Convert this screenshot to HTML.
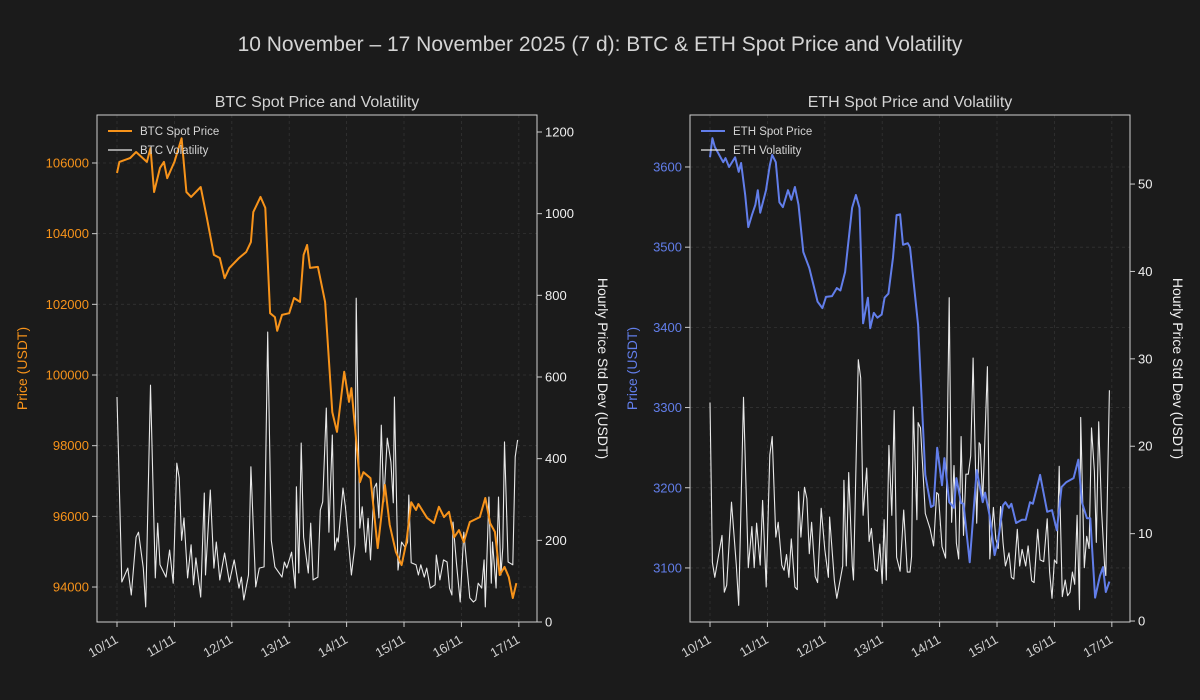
<!DOCTYPE html>
<html><head><meta charset="utf-8">
<style>
body{margin:0;background:#1b1b1b;}
svg{display:block;font-family:"Liberation Sans","DejaVu Sans",sans-serif;}
</style></head>
<body>
<svg id="fig" width="1200" height="700" viewBox="0 0 1200 700">
<rect width="1200" height="700" fill="#1b1b1b"/>
<text x="600" y="51" text-anchor="middle" font-size="21" fill="#d4d4d4">10 November – 17 November 2025 (7 d): BTC &amp; ETH Spot Price and Volatility</text>
</svg>
<script>
const dayLabels=["10/11","11/11","12/11","13/11","14/11","15/11","16/11","17/11"];
const btcPriceTicks=[94000,96000,98000,100000,102000,104000,106000];
const btcVolTicks=[0,200,400,600,800,1000,1200];
const ethPriceTicks=[3100,3200,3300,3400,3500,3600];
const ethVolTicks=[0,10,20,30,40,50];

const btcPH=[0,1,5.5,8,12.5,14,15.5,18,19.6,21,24,27,29,31,35,37.6,40.5,43,45,47,51,54,56,57,60,62,64,66,67,69,72,74,76.5,78,79.5,80.7,84,87,90,92,95,97,98,101.6,103,106,109,112,114,116.6,119,121,123,125,126,129.6,132.5,134.6,136.7,138.8,141,143,145,147.5,151.7,154,156,158,160,162,163.8,165.5,167];
const btcPrice=[105717,106030,106140,106310,106030,106420,105180,105860,106030,105570,106030,106700,105180,105040,105320,104440,103400,103310,102740,103030,103310,103480,103760,104610,105040,104730,101750,101640,101250,101700,101750,102180,102070,103400,103680,103030,103060,102070,98950,98390,100090,99240,99630,96970,97250,97080,95100,96890,95760,94990,94620,95270,96400,96180,96350,95960,95810,96270,95980,96130,95410,95610,95270,95840,95980,96520,95810,95560,94340,94570,94280,93690,94110];
const btcVH=[0,2,4.5,6,8,9,11,12,14,16,17,18,20.5,22,23.5,25,26,27,28,29.5,31,32,33,35,36.5,37,39,40.5,41.5,43,45,47,49,51,52,53,55,56,58,59.5,61.5,63,64.5,66,69,70,71,73,74.5,75,76,77,78,80,81,82,84,85,86,87.5,88.6,90,91,92,92.5,94.5,95.5,98,99.5,100,101.5,102.5,104,105,106,107.5,108.5,109.5,110.5,111.5,113,114.5,115.5,116,117.5,119,120.5,121.5,122,123,125,126,127,128.5,129.5,131,133,133.5,135,136.5,138,139,140,140.5,142,143.5,145,147.5,149,150,151,152.5,153.5,154,155.5,156.5,157,158.5,159.5,160.5,161.3,162,163.5,165.5,166.5,167.5];
const btcVol=[551,98,132,66,208,220,132,37,580,108,242,140,110,176,95,389,353,200,255,108,189,91,157,61,316,115,323,132,196,103,169,98,152,83,110,54,115,380,86,132,135,710,200,135,110,147,132,171,83,331,120,438,208,120,242,103,110,274,294,524,220,458,176,206,196,328,282,115,189,793,230,282,171,254,152,328,340,255,482,294,450,392,292,551,127,196,182,196,311,145,140,115,140,110,132,83,91,164,103,152,147,83,66,245,140,49,220,59,49,54,95,83,152,37,306,95,196,83,306,115,182,441,147,140,404,446];

const ethPH=[0,1,2,5.5,6.5,8,10.5,12,13,14.7,16,17.5,19,20,21,23.4,25,26,27.5,29,30.5,32.6,34,35.5,37,39,41.5,45,47,48.5,51,53,54.5,56.5,59.4,61,62.5,64,66,67,68.5,70,71.8,73,74.6,76.5,78,79.5,80.7,82.7,83.6,87,90,92.4,93.5,95,97,98,100,102,103,105,106,108.6,111.5,114,115,117,119,120.5,122.5,123.5,125,126,128,130.4,132,133.8,135,138,141,143,145,147,149,152,154,155.5,157.6,159,161,163,164.3,165.5,167];
const ethPrice=[3612,3636,3625,3606,3611,3600,3612,3594,3605,3565,3525,3540,3553,3571,3543,3571,3602,3615,3606,3556,3550,3571,3559,3575,3553,3494,3474,3432,3424,3438,3439,3449,3446,3469,3549,3565,3549,3405,3437,3399,3418,3412,3416,3437,3442,3487,3540,3541,3503,3505,3500,3403,3216,3176,3178,3250,3203,3237,3182,3175,3212,3181,3180,3107,3222,3182,3194,3164,3116,3135,3178,3182,3175,3180,3156,3160,3160,3182,3180,3216,3170,3172,3147,3201,3207,3212,3235,3182,3162,3162,3063,3090,3101,3070,3083];
const ethVH=[0,1,2,5,6,7,9,11,12,14,16,17.5,18.5,19.5,21,22,23.5,25,26,27.5,28.5,30,31,32,33,34,35.5,36.5,37,38,39.5,40.5,41.5,42.5,44,45,46.5,48,49.5,50,52,53,55.5,56,57,58,59.5,60,62,63,64,65.5,66.5,67.5,69,70,71,72,72.8,73.7,74.8,76,77,78,79.5,81,82.5,83.6,84.3,85,86.5,87,88,90,92,93.5,94.8,95.5,97,98.5,100,101,102,103,104,105,106,107,108,109,110,111.5,112.5,113,114,116,117,118.5,119.5,120.5,121.5,122.5,123.5,125,126,127,128.5,129.5,130.5,132,133,134.5,135.5,137,138,139.5,141,142,143,144,145,146,147.3,148.5,149.5,150.5,151.5,152.5,153.5,154.5,155,156.5,157.5,158.5,159.5,160.7,161.5,162.5,163.7,165,165.5,167];
const ethVol=[25.0,6.7,5.0,9.8,3.3,4.1,13.6,6.4,1.8,25.6,6.1,10.8,6.1,11.2,6.4,13.8,3.9,19.0,21.1,9.6,11.3,6.4,5.8,7.6,5.0,9.4,3.9,3.6,14.8,9.6,15.3,14.0,7.7,11.3,5.1,4.4,12.9,8.2,5.0,11.9,4.6,2.6,6.3,16.1,6.3,17.0,6.3,4.7,29.9,27.8,12.1,17.5,9.1,10.6,5.9,5.7,8.8,4.3,11.6,4.7,20.1,12.1,24.1,7.3,5.7,12.7,5.6,5.6,7.4,24.5,11.6,22.7,22.1,12.3,10.6,8.6,14.7,14.5,8.5,7.2,37.0,11.3,17.8,8.9,7.1,21.1,9.8,16.8,16.8,18.9,30.1,11.2,20.4,20.2,13.6,29.1,7.1,13.0,9.4,8.3,13.1,9.0,6.3,7.8,5.0,4.8,10.5,6.3,8.2,6.3,8.6,4.6,4.4,10.5,7.0,6.8,11.7,5.6,2.6,7.0,6.6,17.7,2.8,4.7,2.9,3.3,5.6,4.2,12.1,1.3,23.3,6.1,9.7,8.3,22.1,17.1,9.0,22.8,12.8,6.3,5.2,26.4];

const NS="http://www.w3.org/2000/svg";
const fig=document.getElementById('fig');
function mk(tag,attrs,parent,txt){const e=document.createElementNS(NS,tag);for(const k in attrs)e.setAttribute(k,attrs[k]);if(txt!==undefined)e.textContent=txt;(parent||fig).appendChild(e);return e;}

function panel(o){
  const g=mk('g',{});
  
  
  const L=o.x0,R=o.x0+440,T=115,B=622;
  const xS=h=>L+(h-(-8.36))/(175.6+8.36)*440;
  const yP=v=>B-(v-o.pMin)/(o.pMax-o.pMin)*(B-T);
  const yV=v=>B-(v-o.vMin)/(o.vMax-o.vMin)*(B-T);
  dayLabels.forEach((d,i)=>{const x=xS(i*24);
    const gl=mk('line',{x1:x,x2:x,y1:T,y2:B,stroke:'#333',"stroke-dasharray":'3,3',"stroke-width":0.8},g);
    
    mk('line',{x1:x,x2:x,y1:B,y2:B+5,stroke:'#ccc'},g);
    const t=mk('text',{x:x+2,y:B+20,"text-anchor":'end',"font-size":13,fill:'#cfcfcf',transform:`rotate(-30 ${x+2} ${B+20})`},g,d);
    
  });
  o.pTicks.forEach(v=>{const y=yP(v);
    const gl=mk('line',{x1:L,x2:R,y1:y,y2:y,stroke:'#333',"stroke-dasharray":'3,3',"stroke-width":0.8},g);
    
    mk('line',{x1:L-5,x2:L,y1:y,y2:y,stroke:'#ccc'},g);
    const t=mk('text',{x:L-8,y:y+4.5,"text-anchor":'end',"font-size":13,fill:o.color},g,v);
    
  });
  o.vTicks.forEach(v=>{const y=yV(v);
    mk('line',{x1:R,x2:R+5,y1:y,y2:y,stroke:'#ccc'},g);
    const t=mk('text',{x:R+8,y:y+4.5,"font-size":13,fill:'#f0f0f0'},g,v);
    
  });
  const vp=mk('polyline',{points:o.vH.map((h,i)=>xS(h).toFixed(1)+','+yV(o.vol[i]).toFixed(1)).join(' '),fill:'none',stroke:'#e8e8e8',"stroke-width":1.1,"stroke-linejoin":'round'},g);
  
  const pp=mk('polyline',{points:o.pH.map((h,i)=>xS(h).toFixed(1)+','+yP(o.price[i]).toFixed(1)).join(' '),fill:'none',stroke:o.color,"stroke-width":2,"stroke-linejoin":'round'},g);
  
  const fr=mk('rect',{x:L,y:T,width:440,height:B-T,fill:'none',stroke:'#cfcfcf',"stroke-width":1},g);
  
  const tt=mk('text',{x:L+220,y:107,"text-anchor":'middle',"font-size":16,fill:'#d4d4d4'},g,o.title);
  
  const yl=mk('text',{x:0,y:0,"text-anchor":'middle',"font-size":14,fill:o.color,transform:`translate(${L-o.lOff},${(T+B)/2}) rotate(-90)`},g,'Price (USDT)');
  
  const yr=mk('text',{x:0,y:0,"text-anchor":'middle',"font-size":14,fill:'#f0f0f0',transform:`translate(${R+o.rOff},${(T+B)/2}) rotate(90)`},g,'Hourly Price Std Dev (USDT)');
  
  const lg=mk('g',{},g);
  
  const e1=mk('line',{x1:L+11,x2:L+35,y1:131,y2:131,stroke:o.color,"stroke-width":2},lg);
  
  const t1=mk('text',{x:L+43,y:135,"font-size":11.5,fill:'#d4d4d4'},lg,o.key.toUpperCase()+' Spot Price');
  
  const e2=mk('line',{x1:L+11,x2:L+35,y1:150,y2:150,stroke:'#e8e8e8',"stroke-width":1.2},lg);
  
  const t2=mk('text',{x:L+43,y:154,"font-size":11.5,fill:'#d4d4d4'},lg,o.key.toUpperCase()+' Volatility');
  
}
panel({key:'btc',x0:97,lOff:70,rOff:61,color:'#f7931a',title:'BTC Spot Price and Volatility',pMin:93010,pMax:107358,vMin:0,vMax:1241.6,pTicks:btcPriceTicks,vTicks:btcVolTicks,pH:btcPH,price:btcPrice,vH:btcVH,vol:btcVol});
panel({key:'eth',x0:690,lOff:53,rOff:43,color:'#627eea',title:'ETH Spot Price and Volatility',pMin:3032.6,pMax:3664.8,vMin:-0.11,vMax:57.9,pTicks:ethPriceTicks,vTicks:ethVolTicks,pH:ethPH,price:ethPrice,vH:ethVH,vol:ethVol});
</script>
</body></html>
